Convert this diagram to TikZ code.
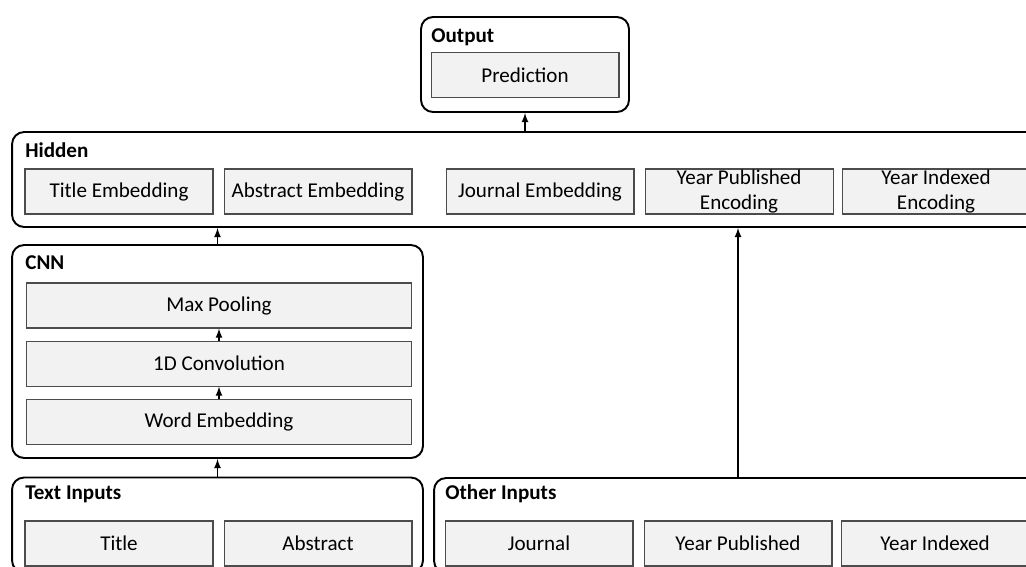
\documentclass[tikz,border=0pt]{standalone}
\usepackage{fontspec}
\setmainfont{Carlito}
\usetikzlibrary{positioning}
\tikzset{grp/.style={draw,line width=1.1pt,rounded corners=0.24cm,inner sep=0pt},
         blk/.style={draw=black!70,line width=0.6pt,fill=black!5,inner sep=0pt,minimum width=3.76cm,minimum height=0.9cm,align=center,font=\fontsize{12}{14.2}\selectfont},
         hd/.style={anchor=west,inner sep=0pt,font=\fontsize{12}{14}\selectfont\bfseries},
         arr/.style={line width=0.8pt,-latex}}
\begin{document}
\begin{tikzpicture}[x=0.02cm,y=-0.02cm]
    \useasboundingbox (0,0) rectangle (1026,566);
    % output
    \node (out) [grp,minimum width=4.16cm,minimum height=1.9cm] at (525,64.5) {};
    \node (outh) [hd] at (431,37) {Output};
    \node (pred) [blk] at (525,75) {Prediction};
    % hidden layer
    \node (hid) [grp,minimum width=20.56cm,minimum height=1.9cm] at (526,179.5) {};
    \node (hidh) [hd] at (25,150) {Hidden};
    \node (te) [blk] at (119,191.5) {Title Embedding};
    \node (ae) [blk,right=0.2cm of te] {Abstract Embedding};
    \node (je) [blk,right=0.66cm of ae] {Journal Embedding};
    \node (ype) [blk,right=0.2cm of je] {Year Published\\Encoding};
    \node (yie) [blk,right=0.16cm of ype] {Year Indexed\\Encoding};
    % cnn
    \node (cnn) [grp,minimum width=8.22cm,minimum height=4.26cm] at (217.5,351.5) {};
    \node (cnnh) [hd] at (25,263) {CNN};
    \node (mp) [blk,minimum width=7.72cm] at (219,305.5) {Max Pooling};
    \node (conv) [blk,minimum width=7.72cm,below=0.24cm of mp] {1D Convolution};
    \node (we) [blk,minimum width=7.72cm,below=0.24cm of conv] {Word Embedding};
    % inputs
    \node (txt) [grp,minimum width=8.22cm,minimum height=1.9cm] at (217.5,525) {};
    \node (txth) [hd] at (25,494) {Text Inputs};
    \node (ti) [blk] at (119,543.5) {Title};
    \node (ab) [blk,right=0.2cm of ti] {Abstract};
    \node (oth) [grp,minimum width=12.12cm,minimum height=1.9cm] at (737,525.5) {};
    \node (othh) [hd] at (445,494) {Other Inputs};
    \node (jo) [blk] at (539,543.5) {Journal};
    \node (yp) [blk,right=0.2cm of jo] {Year Published};
    \node (yi) [blk,right=0.16cm of yp] {Year Indexed};
    % arrows
    \draw[arr] (hid.north -| pred) -- (out.south);
    \draw[arr] (cnn.north) -- (cnn.north |- hid.south);
    \draw[arr] (txt.north) -- (cnn.south);
    \draw[arr] (we) -- (conv);
    \draw[arr] (conv) -- (mp);
    \draw[arr] (oth.north -| yp) -- (hid.south -| yp);
\end{tikzpicture}
\end{document}
